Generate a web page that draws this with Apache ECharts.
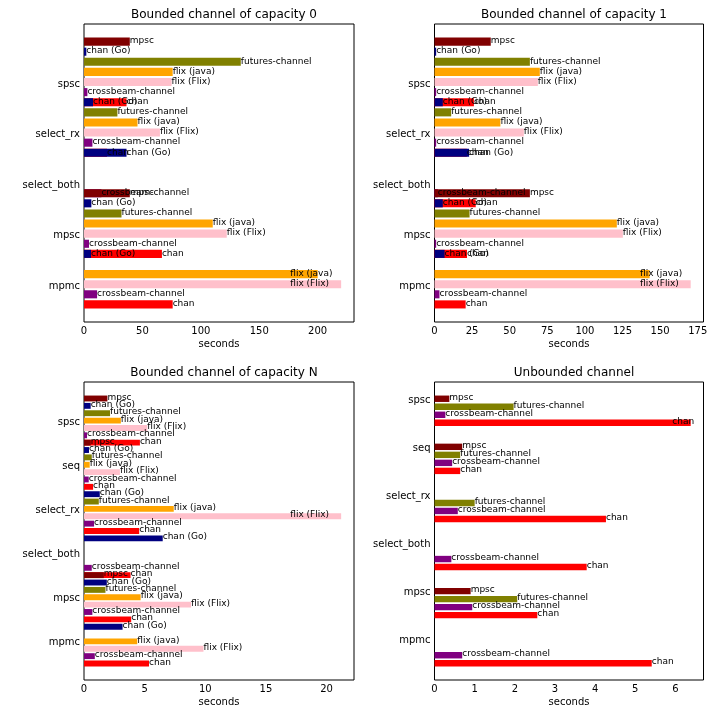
<!DOCTYPE html>
<html><head><meta charset="utf-8">
<script src="https://cdn.jsdelivr.net/npm/echarts@6/dist/echarts.min.js"></script>
<style>html,body{margin:0;padding:0;background:#fff}#c{width:725px;height:711px}</style>
</head><body><div id="c"></div>
<script>
// ---- categories ----
const runsBounded = ['mpmc', 'mpsc', 'select_both', 'select_rx', 'spsc'];
const runsN = ['mpmc', 'mpsc', 'select_both', 'select_rx', 'seq', 'spsc'];
const implsAll = ['chan', 'crossbeam-channel', 'flix (Flix)', 'flix (java)', 'futures-channel', 'chan (Go)', 'mpsc'];
const implsUnbounded = ['chan', 'crossbeam-channel', 'futures-channel', 'mpsc'];
const implColors = {
  'chan': '#ff0000', 'crossbeam-channel': '#800080', 'flix (Flix)': '#ffc0cb',
  'flix (java)': '#ffa500', 'futures-channel': '#808000', 'chan (Go)': '#000080', 'mpsc': '#800000'
};
const titles = ['Bounded channel of capacity 0', 'Bounded channel of capacity 1', 'Bounded channel of capacity N', 'Unbounded channel'];

// ---- seconds, per implementation, in run order ----
// capacity 0: mpmc, mpsc, select_both, select_rx, spsc
const cap0_chan = [75.9, 66.7, 0, 19.7, 36.4];
const cap0_crossbeam = [11.2, 4.3, 14.9, 7.2, 2.9];
const cap0_flixFlix = [220.1, 122.2, 0, 65.0, 75.0];
const cap0_flixJava = [200.0, 110.2, 0, 45.8, 75.9];
const cap0_futures = [0, 32.1, 0, 28.6, 134.2];
const cap0_chanGo = [6.0, 6.3, 36.4, 7.7, 2.0];
const cap0_mpsc = [0, 39.2, 0, 0, 39.2];
// capacity 1
const cap1_chan = [20.7, 21.6, 27.4, 21.5, 26.2];
const cap1_crossbeam = [3.3, 1.1, 2.2, 1.1, 1.1];
const cap1_flixFlix = [170.3, 125.2, 0, 59.4, 68.7];
const cap1_flixJava = [143.0, 121.2, 0, 43.8, 70.0];
const cap1_futures = [0, 23.3, 0, 11.1, 63.4];
const cap1_chanGo = [6.7, 5.5, 23.0, 5.5, 1.1];
const cap1_mpsc = [0, 63.4, 0, 0, 37.4];
// capacity N: mpmc, mpsc, select_both, select_rx, seq, spsc
const capN_chan = [5.36, 3.89, 3.84, 4.55, 0.75, 4.61];
const capN_crossbeam = [0.89, 0.69, 0.64, 0.83, 0.39, 0.25];
const capN_flixFlix = [9.85, 8.83, 0, 21.2, 2.96, 5.22];
const capN_flixJava = [4.39, 4.67, 0, 7.4, 0.47, 3.04];
const capN_futures = [0, 1.77, 0, 1.22, 0.64, 2.15];
const capN_chanGo = [3.18, 1.88, 6.49, 1.3, 0.41, 0.55];
const capN_mpsc = [0, 1.63, 0, 0, 0.55, 1.93];
// unbounded
const unb_chan = [5.41, 2.56, 3.79, 4.27, 0.64, 6.38];
const unb_crossbeam = [0.69, 0.94, 0.42, 0.58, 0.44, 0.27];
const unb_futures = [0, 2.06, 0, 1.0, 0.64, 1.97];
const unb_mpsc = [0, 0.90, 0, 0, 0.69, 0.37];

// ---- x tick labels ----
const ticksCap0 = [0, 50, 100, 150, 200];
const ticksCap1 = [0, 25, 50, 75, 100, 125, 150, 175];
const ticksCapN = [0, 5, 10, 15, 20];
const ticksUnb = [0, 1, 2, 3, 4, 5, 6];

const panels = [
  { runs: runsBounded, impls: implsAll, ticks: ticksCap0,
    values: [cap0_chan, cap0_crossbeam, cap0_flixFlix, cap0_flixJava, cap0_futures, cap0_chanGo, cap0_mpsc] },
  { runs: runsBounded, impls: implsAll, ticks: ticksCap1,
    values: [cap1_chan, cap1_crossbeam, cap1_flixFlix, cap1_flixJava, cap1_futures, cap1_chanGo, cap1_mpsc] },
  { runs: runsN, impls: implsAll, ticks: ticksCapN,
    values: [capN_chan, capN_crossbeam, capN_flixFlix, capN_flixJava, capN_futures, capN_chanGo, capN_mpsc] },
  { runs: runsN, impls: implsUnbounded, ticks: ticksUnb,
    values: [unb_chan, unb_crossbeam, unb_futures, unb_mpsc] }
];
const gridBoxes = [
  { left: 84, top: 24, width: 270, height: 298 },
  { left: 434.5, top: 24, width: 269, height: 298 },
  { left: 84, top: 382, width: 270, height: 298 },
  { left: 434.5, top: 382, width: 269, height: 298 }
];

const FONT = 'DejaVu Sans';
const option = {
  animation: false,
  backgroundColor: '#ffffff',
  textStyle: { fontFamily: FONT },
  title: [], grid: [], xAxis: [], yAxis: [], series: []
};

panels.forEach((p, pi) => {
  const g = gridBoxes[pi];
  const n = p.runs.length;
  const ys = p.runs.map((r, k) => n * (k + 1));
  const off = i => i - Math.floor(n / 2) + 0.2;
  let allY = [];
  p.impls.forEach((name, i) => ys.forEach(y => allY.push(y + off(i))));
  const lo0 = Math.min(...allY) - 0.4, hi0 = Math.max(...allY) + 0.4;
  const m = 0.05 * (hi0 - lo0);
  const xmax = Math.max(...p.values.map(a => Math.max(...a)));

  option.title.push({
    text: titles[pi], left: g.left + g.width / 2, textAlign: 'center', top: g.top - 20,
    textStyle: { fontSize: 12, fontWeight: 'normal', color: '#000', fontFamily: FONT }
  });
  option.grid.push(Object.assign({ show: true, borderColor: '#000', borderWidth: 1, backgroundColor: 'transparent' }, g));
  option.xAxis.push({
    type: 'value', gridIndex: pi, min: 0, max: xmax * 1.05,
    axisLine: { show: false }, axisTick: { show: false }, splitLine: { show: false },
    axisLabel: { customValues: p.ticks, color: '#000', fontSize: 10, margin: 4, fontFamily: FONT },
    name: 'seconds', nameLocation: 'middle', nameGap: 17,
    nameTextStyle: { color: '#000', fontSize: 10, fontFamily: FONT }
  });
  option.yAxis.push({
    type: 'value', gridIndex: pi, min: lo0 - m, max: hi0 + m,
    axisLine: { show: false }, axisTick: { show: false }, splitLine: { show: false },
    axisLabel: { customValues: ys, color: '#000', fontSize: 10, margin: 4, fontFamily: FONT,
      formatter: v => { const k = ys.indexOf(Math.round(v)); return k >= 0 ? p.runs[k] : ''; } }
  });

  // bars
  p.impls.forEach((name, i) => {
    const data = p.values[i].map((v, k) => [v, ys[k] + off(i)]);
    option.series.push({
      type: 'custom', xAxisIndex: pi, yAxisIndex: pi, silent: true, clip: false, z: 2,
      encode: { x: 0, y: 1 },
      data,
      renderItem: (params, api) => {
        const v = api.value(0), y = api.value(1);
        if (!v) return null;
        const a = api.coord([0, y + 0.4]);
        const b = api.coord([v, y - 0.4]);
        return { type: 'rect', shape: { x: a[0], y: a[1], width: b[0] - a[0], height: b[1] - a[1] },
          style: { fill: implColors[name] } };
      }
    });
  });

  // labels (drawn above all bars)
  const labelData = [], labelNames = [];
  p.impls.forEach((name, i) => {
    p.values[i].forEach((v, k) => {
      if (v) {
        labelData.push([Math.min(xmax - name.length * 0.018 * xmax, v), ys[k] + off(i) - 0.25]);
        labelNames.push(name);
      }
    });
  });
  option.series.push({
    type: 'custom', xAxisIndex: pi, yAxisIndex: pi, silent: true, clip: false, z: 5,
    encode: { x: 0, y: 1 },
    data: labelData,
    renderItem: (params, api) => {
      const pt = api.coord([api.value(0), api.value(1)]);
      return { type: 'text', x: pt[0], y: pt[1] - 3.1,
        style: { text: labelNames[params.dataIndex], fill: '#000', fontSize: 9, fontFamily: FONT,
          align: 'left', verticalAlign: 'middle' } };
    }
  });
});

const chart = echarts.init(document.getElementById('c'), null, { renderer: 'canvas' });
chart.setOption(option);
</script>
</body></html>
